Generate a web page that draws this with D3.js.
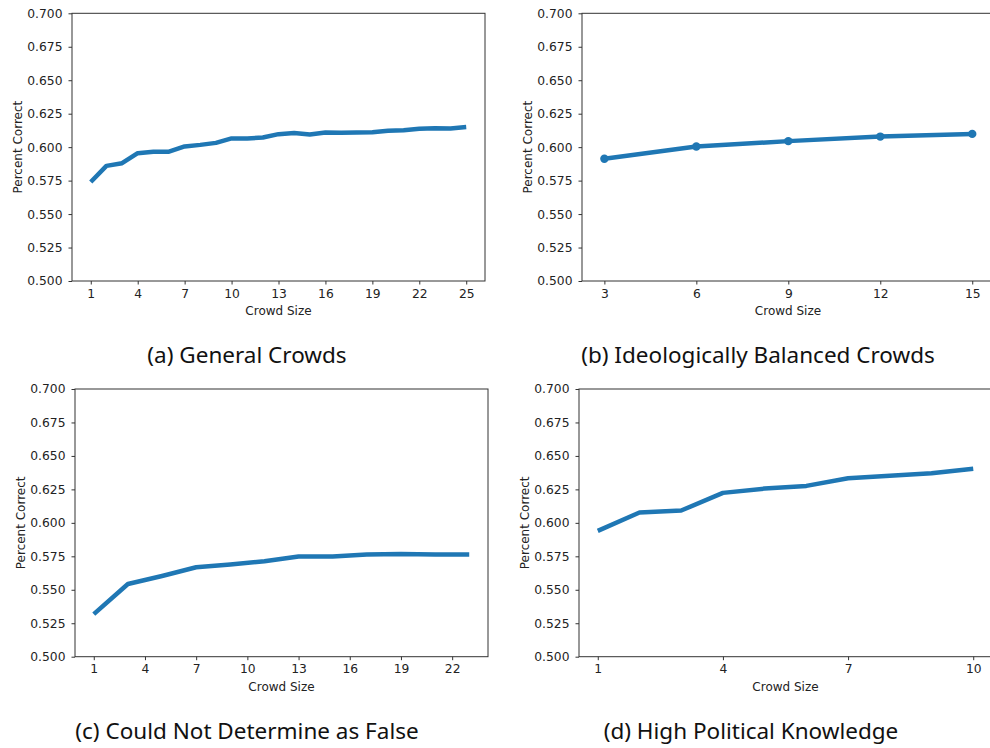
<!DOCTYPE html>
<html>
<head>
<meta charset="utf-8">
<script src="https://cdn.jsdelivr.net/npm/d3@7"></script>
<style>
  body { margin: 0; background: #fff; }
  svg { display: block; }
  .tick text { font-family: "DejaVu Sans", sans-serif; font-size: 12.3px; fill: #222; }
  .axis-label { font-family: "DejaVu Sans", sans-serif; font-size: 12px; fill: #222; }
  .caption { font-family: "Noto Sans", sans-serif; font-size: 22.5px; fill: #111; }
</style>
</head>
<body>
<svg id="chart" width="990" height="748"></svg>
<script>
// (a) general crowds
const sizesA = d3.range(1, 26);
const valuesA = [0.574, 0.586, 0.588, 0.5955, 0.5965, 0.5966, 0.6005, 0.6017, 0.6032, 0.6065,
    0.6065, 0.6072, 0.6097, 0.6105, 0.6095, 0.611, 0.6107, 0.611, 0.6112, 0.6122,
    0.6127, 0.6137, 0.6142, 0.614, 0.615];
const ticksA = [1, 4, 7, 10, 13, 16, 19, 22, 25];

// (b) ideologically balanced crowds
const sizesB = [3, 6, 9, 12, 15];
const valuesB = [0.5913, 0.6005, 0.6045, 0.6079, 0.6099];
const ticksB = [3, 6, 9, 12, 15];

// (c) could not determine as false
const sizesC = [1, 3, 5, 7, 9, 11, 13, 15, 17, 19, 21, 23];
const valuesC = [0.5318, 0.5543, 0.5603, 0.5668, 0.5688, 0.5713, 0.5748, 0.5748, 0.5763, 0.5768, 0.5763, 0.5763];
const ticksC = [1, 4, 7, 10, 13, 16, 19, 22];

// (d) high political knowledge
const sizesD = d3.range(1, 11);
const valuesD = [0.594, 0.6077, 0.6092, 0.6224, 0.6256, 0.6276, 0.6333, 0.6351, 0.6371, 0.6405];
const ticksD = [1, 4, 7, 10];

const yTicks = d3.range(0.5, 0.7001, 0.025);
const captions = ["(a) General Crowds", "(b) Ideologically Balanced Crowds",
    "(c) Could Not Determine as False", "(d) High Political Knowledge"];

const svg = d3.select("#chart");
const blue = "#1f77b4", spine = "#333";

const panels = [
    { x: sizesA, y: valuesA, ticks: ticksA, dom: [-0.2, 26.2], box: [72, 485, 13.3, 281], cap: [247, 363], markers: false },
    { x: sizesB, y: valuesB, ticks: ticksB, dom: [2.27, 15.71], box: [582, 994, 13.3, 281], cap: [758, 363], markers: true },
    { x: sizesC, y: valuesC, ticks: ticksC, dom: [-0.1, 24.1], box: [75, 488, 389, 656.7], cap: [247, 739], markers: false },
    { x: sizesD, y: valuesD, ticks: ticksD, dom: [0.55, 10.45], box: [579, 992, 389, 656.7], cap: [751, 739], markers: false }
];

panels.forEach((p, i) => drawPanel(p, captions[i]));

function drawPanel(p, caption) {
    const [l, r, t, b] = p.box;
    const x = d3.scaleLinear().domain(p.dom).range([l, r]);
    const y = d3.scaleLinear().domain([0.5, 0.7]).range([b, t]);
    const g = svg.append("g");
    const pts = p.x.map((v, i) => [v, p.y[i]]);

    g.append("path").datum(pts)
        .attr("fill", "none").attr("stroke", blue).attr("stroke-width", 4.5)
        .attr("stroke-linejoin", "round")
        .attr("d", d3.line().x(d => x(d[0])).y(d => y(d[1])));

    if (p.markers) {
        g.selectAll("circle").data(pts).join("circle")
            .attr("cx", d => x(d[0])).attr("cy", d => y(d[1])).attr("r", 4.2)
            .attr("fill", blue);
    }

    // frame
    g.append("rect").attr("x", l).attr("y", t).attr("width", r - l).attr("height", b - t)
        .attr("fill", "none").attr("stroke", spine).attr("stroke-width", 1);

    const xAxis = g.append("g").attr("transform", `translate(0,${b})`)
        .call(d3.axisBottom(x).tickValues(p.ticks).tickSize(3.5).tickPadding(4.5).tickSizeOuter(0));
    const yAxis = g.append("g").attr("transform", `translate(${l},0)`)
        .call(d3.axisLeft(y).tickValues(yTicks).tickFormat(d3.format(".3f")).tickSize(3.5).tickPadding(6).tickSizeOuter(0));
    [xAxis, yAxis].forEach(a => {
        a.select(".domain").remove();
        a.selectAll(".tick line").attr("stroke", spine);
    });

    g.append("text").attr("class", "axis-label")
        .attr("x", (l + r) / 2).attr("y", b + 34)
        .attr("text-anchor", "middle").text("Crowd Size");

    g.append("text").attr("class", "axis-label")
        .attr("transform", `translate(${l - 50.5},${(t + b) / 2}) rotate(-90)`)
        .attr("text-anchor", "middle").text("Percent Correct");

    svg.append("text").attr("class", "caption")
        .attr("x", p.cap[0]).attr("y", p.cap[1]).attr("text-anchor", "middle").text(caption);
}
</script>
</body>
</html>
